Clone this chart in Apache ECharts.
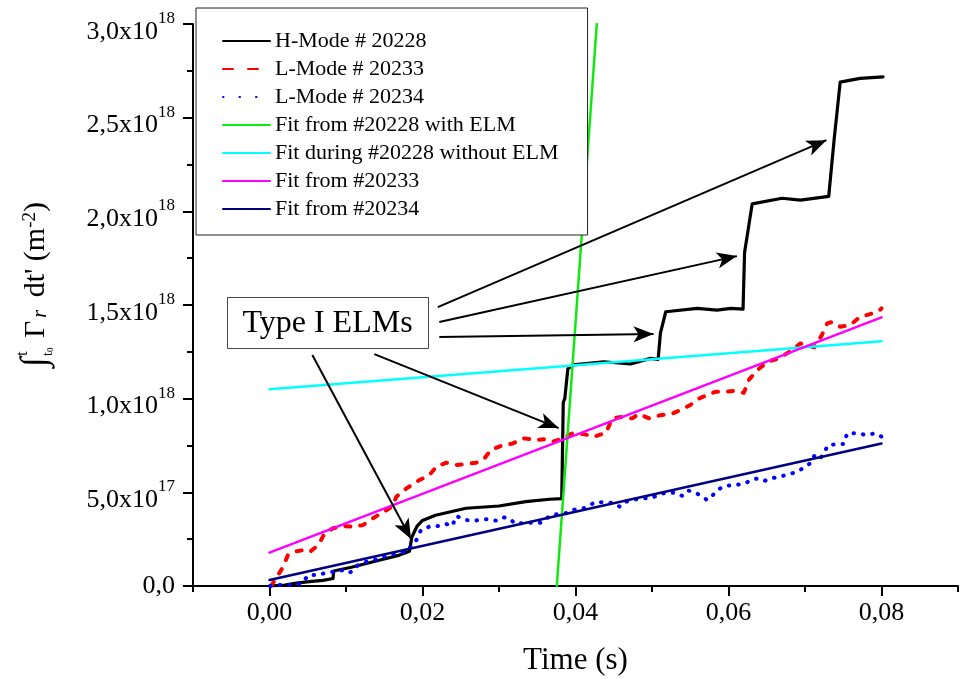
<!DOCTYPE html>
<html>
<head>
<meta charset="utf-8">
<script src="https://cdn.jsdelivr.net/npm/echarts@6/dist/echarts.min.js"></script>
<style>
  html, body { margin: 0; padding: 0; background: #fff; }
  #chart { width: 967px; height: 679px; }
</style>
</head>
<body>
<div id="chart"></div>
<script>
// values are in units of 1e18 m^-2, time in s
const hMode20228 = [
  [0, 0], [0.002, 0.005], [0.0035, 0.015], [0.0055, 0.025], [0.007, 0.03], [0.0083, 0.04],
  [0.0084, 0.08], [0.0107, 0.10], [0.0146, 0.14], [0.017, 0.165], [0.0183, 0.185],
  [0.0186, 0.26], [0.0193, 0.32], [0.02, 0.35], [0.0217, 0.378], [0.0257, 0.415],
  [0.030, 0.427], [0.0335, 0.45], [0.0366, 0.463], [0.0382, 0.466], [0.0384, 0.98],
  [0.0386, 1.0], [0.039, 1.16], [0.0397, 1.18], [0.0437, 1.197], [0.0472, 1.185],
  [0.0498, 1.215], [0.0508, 1.21], [0.0511, 1.35], [0.0518, 1.464], [0.0559, 1.482],
  [0.0585, 1.473], [0.0603, 1.482], [0.0619, 1.478], [0.0621, 1.78], [0.0631, 2.04],
  [0.067, 2.07], [0.0694, 2.06], [0.0731, 2.08], [0.0738, 2.38], [0.0746, 2.69],
  [0.0772, 2.71], [0.0802, 2.718]
]
const lMode20233 = [
  [0.0002, 0], [0.0018, 0.103], [0.0024, 0.165], [0.0033, 0.183], [0.0044, 0.192],
  [0.0053, 0.183], [0.0064, 0.219], [0.0072, 0.281], [0.0083, 0.308], [0.0096, 0.32],
  [0.0109, 0.316], [0.0122, 0.325], [0.0135, 0.361], [0.0146, 0.388], [0.016, 0.423],
  [0.0166, 0.477], [0.0179, 0.521], [0.0196, 0.566], [0.0209, 0.592], [0.0218, 0.637],
  [0.0231, 0.658], [0.0244, 0.646], [0.0257, 0.651], [0.027, 0.658], [0.0281, 0.681],
  [0.0289, 0.726], [0.0302, 0.747], [0.0318, 0.761], [0.0333, 0.788], [0.0348, 0.779],
  [0.0359, 0.783], [0.037, 0.77], [0.0383, 0.788], [0.0396, 0.815], [0.0411, 0.811],
  [0.0424, 0.797], [0.044, 0.818], [0.0448, 0.895], [0.0461, 0.903], [0.0474, 0.895],
  [0.0483, 0.918], [0.0496, 0.895], [0.0511, 0.912], [0.0527, 0.921], [0.0537, 0.939],
  [0.055, 0.966], [0.0561, 1.0], [0.0572, 1.019], [0.0583, 1.037], [0.0596, 1.037],
  [0.0607, 1.042], [0.062, 1.031], [0.0627, 1.103], [0.0638, 1.153], [0.0651, 1.197],
  [0.0666, 1.215], [0.0683, 1.259], [0.0694, 1.295], [0.0712, 1.274], [0.0722, 1.339],
  [0.0729, 1.402], [0.0736, 1.41], [0.0746, 1.384], [0.0759, 1.393], [0.0772, 1.437],
  [0.0785, 1.451], [0.0798, 1.473], [0.08, 1.482]
]
const lMode20234 = [
  [0.0001, 0], [0.0014, 0.005], [0.0029, 0.005], [0.0042, 0.014], [0.0051, 0.059],
  [0.0064, 0.059], [0.0074, 0.071], [0.0085, 0.076], [0.0096, 0.085], [0.0105, 0.071],
  [0.0116, 0.112], [0.0127, 0.13], [0.014, 0.142], [0.0153, 0.16], [0.0166, 0.174],
  [0.0179, 0.183], [0.0192, 0.245], [0.0198, 0.299], [0.0211, 0.32], [0.0222, 0.32],
  [0.0231, 0.331], [0.0239, 0.32], [0.0244, 0.374], [0.0257, 0.352], [0.0269, 0.349],
  [0.0279, 0.356], [0.0287, 0.356], [0.0296, 0.349], [0.0305, 0.367], [0.0313, 0.361],
  [0.0322, 0.331], [0.0335, 0.338], [0.0346, 0.338], [0.0356, 0.338], [0.0366, 0.374],
  [0.0376, 0.384], [0.0387, 0.388], [0.0396, 0.406], [0.0411, 0.415], [0.0427, 0.45],
  [0.044, 0.445], [0.0448, 0.445], [0.0458, 0.423], [0.0466, 0.45], [0.0479, 0.463],
  [0.0487, 0.468], [0.0498, 0.468], [0.0508, 0.486], [0.0518, 0.498], [0.0531, 0.498],
  [0.054, 0.48], [0.0548, 0.509], [0.0557, 0.498], [0.0566, 0.477], [0.0572, 0.459],
  [0.0581, 0.491], [0.0587, 0.516], [0.0595, 0.534], [0.0609, 0.539], [0.0622, 0.548],
  [0.0631, 0.569], [0.064, 0.575], [0.0648, 0.562], [0.0656, 0.575], [0.0666, 0.583],
  [0.0675, 0.592], [0.0683, 0.601], [0.0692, 0.615], [0.0708, 0.658], [0.0712, 0.694],
  [0.0719, 0.676], [0.0725, 0.711], [0.073, 0.752], [0.0745, 0.758], [0.0751, 0.758],
  [0.0755, 0.815], [0.077, 0.815], [0.0779, 0.806], [0.0792, 0.815], [0.08, 0.797]
]
// straight fits: [t, value] at both ends
const fitWithELM = [[0.03756, 0], [0.04278, 3.0]]
const fitWithoutELM = [[0, 1.05], [0.08, 1.307]]
const fit20233 = [[0, 0.178], [0.08, 1.434]]
const fit20234 = [[0, 0.032], [0.08, 0.761]]

const seriesNames = ['H-Mode # 20228', 'L-Mode # 20233', 'L-Mode # 20234',
  'Fit from #20228 with ELM', 'Fit during #20228 without ELM', 'Fit from #20233', 'Fit from #20234']

// "Type I ELMs" arrows, [start, end] in data coords
const arrows = [
  [[0.0220, 1.489], [0.0728, 2.380]],
  [[0.0222, 1.409], [0.0611, 1.761]],
  [[0.0222, 1.329], [0.0502, 1.345]],
  [[0.0137, 1.238], [0.0378, 0.843]],
  [[0.0056, 1.233], [0.0185, 0.251]]
]

const xLabelValues = [0, 0.02, 0.04, 0.06, 0.08]
const xMinorValues = [-0.01, 0.01, 0.03, 0.05, 0.07, 0.09]

const FONT = '"Liberation Serif", "Times New Roman", serif'

const chart = echarts.init(document.getElementById('chart'))

function lineSeries(name, data, color, width, type) {
  return {
    name: name,
    type: 'line',
    data: data,
    symbol: 'none',
    smooth: false,
    lineStyle: { color: color, width: width, type: type || 'solid', cap: 'round', join: 'round' },
    itemStyle: { color: color }
  }
}

function yLabel(v) {
  if (v === 0) return '0,0'
  if (v < 1) return '{n|' + (v * 10).toFixed(1).replace('.', ',') + 'x10}{s|17}'
  return '{n|' + v.toFixed(1).replace('.', ',') + 'x10}{s|18}'
}

const option = {
  animation: false,
  backgroundColor: '#fff',
  grid: { left: 193, right: 9, top: 24, bottom: 93, containLabel: false, outerBoundsMode: 'none' },
  legend: {
    orient: 'vertical',
    left: 196,
    top: 8,
    padding: [19, 29, 12, 26],
    itemWidth: 47,
    itemHeight: 14,
    itemGap: 0,
    borderColor: '#222',
    borderWidth: 1,
    backgroundColor: '#fff',
    selectedMode: false,
    itemStyle: { color: 'transparent', borderWidth: 0, opacity: 0 },
    textStyle: { fontFamily: FONT, fontSize: 22, color: '#000', lineHeight: 28 },
    data: [
      { name: seriesNames[0] },
      { name: seriesNames[1], lineStyle: { type: [10, 15] } },
      { name: seriesNames[2], lineStyle: { type: [0.5, 16] } },
      { name: seriesNames[3] },
      { name: seriesNames[4] },
      { name: seriesNames[5] },
      { name: seriesNames[6] }
    ]
  },
  xAxis: [{
    type: 'value',
    min: -0.01,
    max: 0.09,
    name: 'Time (s)',
    nameLocation: 'middle',
    nameGap: 75,
    nameTextStyle: { fontFamily: FONT, fontSize: 31, color: '#000', verticalAlign: 'middle' },
    axisLine: { show: true, onZero: false, lineStyle: { color: '#000', width: 2 } },
    axisTick: { show: true, customValues: xLabelValues, length: 10, lineStyle: { color: '#000', width: 2 } },
    axisLabel: {
      customValues: xLabelValues,
      margin: 14,
      fontFamily: FONT, fontSize: 26, color: '#000',
      formatter: v => v.toFixed(2).replace('.', ',')
    },
    splitLine: { show: false }
  }, {
    type: 'value',
    min: -0.01,
    max: 0.09,
    position: 'bottom',
    axisLine: { show: false, onZero: false },
    axisTick: { show: true, customValues: xMinorValues, length: 6, lineStyle: { color: '#000', width: 2 } },
    axisLabel: { show: false },
    splitLine: { show: false }
  }],
  yAxis: {
    type: 'value',
    min: 0,
    max: 3.0,
    interval: 0.5,
    axisLine: { show: true, onZero: false, lineStyle: { color: '#000', width: 2 } },
    axisTick: { show: true, length: 10, lineStyle: { color: '#000', width: 2 } },
    minorTick: { show: true, splitNumber: 2, length: 6, lineStyle: { color: '#000', width: 2 } },
    axisLabel: {
      margin: 18,
      fontFamily: FONT, fontSize: 26, color: '#000',
      formatter: yLabel,
      rich: {
        n: { fontFamily: FONT, fontSize: 26, color: '#000', verticalAlign: 'bottom', lineHeight: 26 },
        s: { fontFamily: FONT, fontSize: 17, color: '#000', verticalAlign: 'top', lineHeight: 42, padding: [7, 0, 0, 0] }
      }
    },
    splitLine: { show: false }
  },
  graphic: [
    {
      type: 'group',
      x: 36,
      y: 367,
      rotation: Math.PI / 2,
      children: [
        { type: 'text', x: 0, y: 0, style: { text: '∫', fontFamily: FONT, fontSize: 36, fill: '#000', align: 'left', verticalAlign: 'middle' } },
        { type: 'text', x: 11, y: -13, style: { text: 't', fontFamily: FONT, fontSize: 17, fill: '#000', align: 'left', verticalAlign: 'middle' } },
        { type: 'text', x: 11, y: 12, style: { text: 't{z|0}', fontFamily: FONT, fontSize: 14, fill: '#000', align: 'left', verticalAlign: 'middle',
          rich: { z: { fontFamily: FONT, fontSize: 9, verticalAlign: 'bottom', lineHeight: 6 } } } },
        { type: 'text', x: 29, y: 0, style: {
          text: 'Γ{r|r}{m| dt\' (m}{p|-2}{m|)}',
          fontFamily: FONT, fontSize: 30, fill: '#000', align: 'left', verticalAlign: 'middle',
          rich: {
            r: { fontFamily: FONT, fontSize: 20, fontStyle: 'italic', verticalAlign: 'bottom', lineHeight: 8, padding: [0, 5, 0, 3] },
            m: { fontFamily: FONT, fontSize: 30 },
            p: { fontFamily: FONT, fontSize: 19, verticalAlign: 'top', lineHeight: 8 }
          }
        } }
      ]
    },
    {
      type: 'group',
      left: 227,
      top: 297,
      children: [
        { type: 'rect', shape: { x: 0, y: 0, width: 201, height: 51 }, style: { fill: '#fff', stroke: '#444', lineWidth: 1 } },
        { type: 'text', x: 100, y: 26, style: { text: 'Type I ELMs', fontFamily: FONT, fontSize: 32, fill: '#000', align: 'center', verticalAlign: 'middle' } }
      ]
    }
  ],
  series: [
    lineSeries(seriesNames[0], hMode20228, '#000000', 3.2),
    lineSeries(seriesNames[1], lMode20233, '#ff0000', 4, [5, 10]),
    lineSeries(seriesNames[2], lMode20234, '#0000ff', 4, [0.5, 9]),
    lineSeries(seriesNames[3], fitWithELM, '#10e810', 2.5),
    lineSeries(seriesNames[4], fitWithoutELM, '#00ffff', 2.5),
    lineSeries(seriesNames[5], fit20233, '#ff00ff', 2.5),
    lineSeries(seriesNames[6], fit20234, '#000080', 2.5),
    {
      name: 'arrows',
      type: 'line',
      data: [],
      silent: true,
      markLine: {
        silent: true,
        symbol: ['none', 'arrow'],
        symbolSize: [12, 20],
        label: { show: false },
        lineStyle: { color: '#000', width: 2, type: 'solid' },
        emphasis: { disabled: true },
        data: arrows.map(a => [{ coord: a[0] }, { coord: a[1] }])
      }
    }
  ]
}

chart.setOption(option)
</script>
</body>
</html>
